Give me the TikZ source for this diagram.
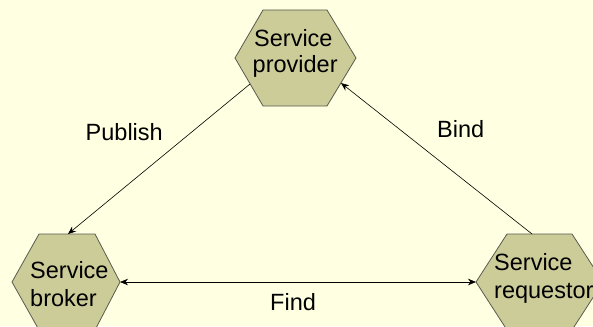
\documentclass[tikz,border=0pt]{standalone}
\usepackage{fontspec}
\setmainfont{Liberation Sans}
\usetikzlibrary{arrows.meta}
\definecolor{bgcol}{RGB}{255,255,225}
\definecolor{hexfill}{RGB}{204,204,153}
\definecolor{hexline}{RGB}{90,90,80}
\tikzset{
  hexagon/.style={fill=hexfill, draw=hexline, line width=0.8pt, line join=miter},
  txt/.style={inner sep=0pt, anchor=base west, font=\fontsize{23.5}{26}\selectfont},
  conn/.style={draw=black, line width=0.6pt},
  tip/.style={-{Stealth[length=8pt,width=6.5pt]}},
}
\begin{document}
\begin{tikzpicture}[x=1pt,y=-1pt]
\useasboundingbox (0,0) rectangle (593,326);
\fill[bgcol] (0,0) rectangle (593,326);
% hexagons
\draw[hexagon] (263,10) -- (327,10) -- (356,58) -- (327,106) -- (263,106) -- (235,58) -- cycle;
\draw[hexagon] (39,234) -- (95,234) -- (120,282) -- (95,330) -- (39,330) -- (12,282) -- cycle;
\draw[hexagon] (507,234) -- (572,234) -- (603,282) -- (572,330) -- (507,330) -- (476,282) -- cycle;
% text in hexagons
\node[txt] (p1) at (254,47) {Service};
\node[txt] (p2) at (252.5,73) {provider};
\node[txt] (b1) at (30,278) {Service};
\node[txt] (b2) at (30,306) {broker};
\node[txt] (r1) at (494,270) {Service};
\node[txt] (r2) at (494,298) {requestor};
% connector ends
\coordinate (provPub) at (250,84);
\coordinate (brokTop) at (68,234);
\coordinate (provBind) at (341,83);
\coordinate (reqTop) at (532,234);
\coordinate (brokRight) at (120,282);
\coordinate (reqLeft) at (476,282);
% connectors
\draw[conn,tip] (provPub) -- (brokTop);
\draw[conn,tip] (reqTop) -- (provBind);
\draw[conn,{Stealth[length=8pt,width=6.5pt]}-{Stealth[length=8pt,width=6.5pt]}] (brokRight) -- (reqLeft);
% labels
\node[txt] (lpub) at (85.5,140) {Publish};
\node[txt] (lbind) at (437,137) {Bind};
\node[txt] (lfind) at (270,310) {Find};
\end{tikzpicture}
\end{document}
